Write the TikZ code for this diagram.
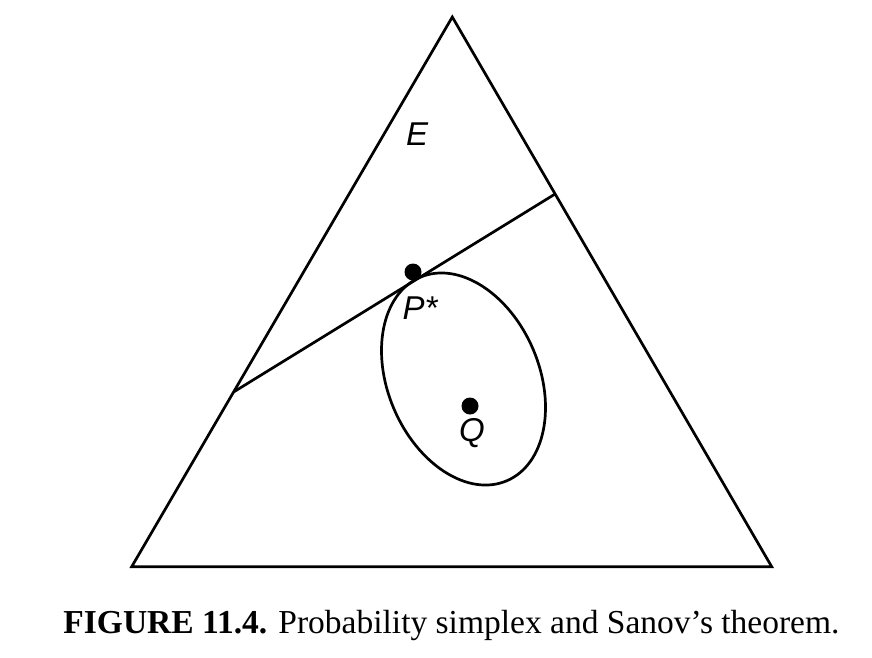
\documentclass[tikz,border=0pt]{standalone}
\usepackage{fontspec}
\setmainfont{Liberation Serif}
\newfontfamily\labelfont{Liberation Sans}
\begin{document}
\begin{tikzpicture}[x=1pt,y=-1pt,
  edge/.style={line width=2.7pt,line join=miter,line cap=butt},
  dotmark/.style={circle,fill=black,inner sep=0pt,minimum size=17pt},
  lbl/.style={font=\labelfont\itshape\fontsize{33}{36}\selectfont,inner sep=0pt},
  captext/.style={font=\fontsize{33.5}{38}\selectfont,inner sep=0pt}]
\useasboundingbox (0,0) rectangle (872,657);
\coordinate (A) at (452.3,17);
\coordinate (B) at (131.7,566.7);
\coordinate (C) at (771.7,566.7);
\coordinate (L) at (233.6,392);
\coordinate (R) at (555.1,194);
\coordinate (O) at (463.5,379);
\draw[edge] (A) -- (B) -- (C) -- cycle;
\draw[edge] (L) -- (R);
\draw[edge,rotate around={-67:(O)}] (O) ellipse [x radius=110.6, y radius=75.7];
\node[dotmark] (pstar) at (413,272) {};
\node[dotmark] (q) at (470,406) {};
\node[lbl] (e) at (417,134) {E};
\node[lbl] (plabel) at (420,308) {P*};
\node[lbl] (qlabel) at (472,433.5) {Q};
\node[captext] (caption) at (451.5,625) {\textbf{FIGURE 11.4.} Probability simplex and Sanov’s theorem.};
\end{tikzpicture}
\end{document}
